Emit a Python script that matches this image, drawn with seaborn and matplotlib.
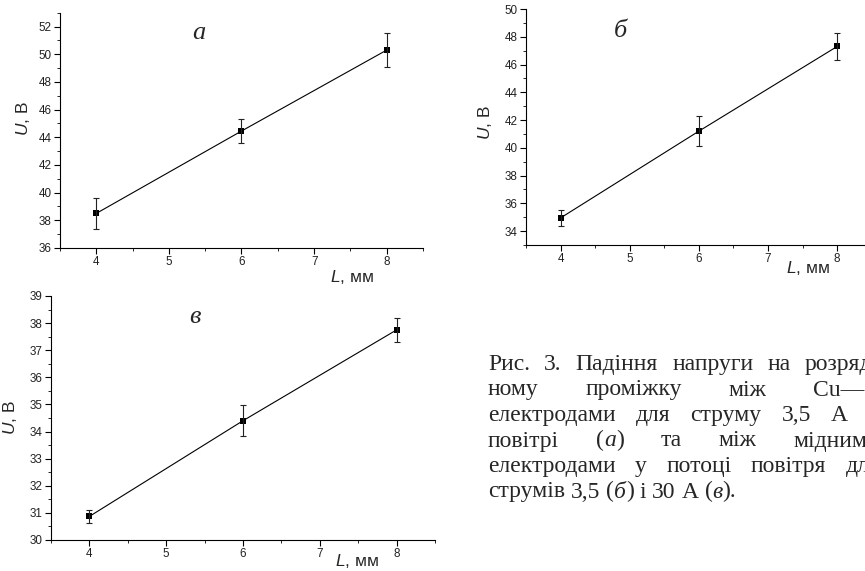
import matplotlib
matplotlib.use("Agg")
import matplotlib.pyplot as plt
from matplotlib.ticker import MultipleLocator
import seaborn as sns
import pandas as pd

# gap length L (mm) and measured voltage drop U (V) with error bars
L_mm = [4, 6, 8]
U_a = [38.5, 44.45, 50.3]
err_a = [1.1, 0.9, 1.2]
U_b = [34.95, 41.2, 47.3]
err_b = [0.6, 1.1, 1.0]
U_v = [30.87, 34.4, 37.75]
err_v = [0.23, 0.58, 0.45]

panel_letters = ["а", "б", "в"]
xlabel_text = "$L$, мм"
ylabel_text = "$U$, В"

# caption, *...* marks italic parts
caption_lines = [
    "Рис. 3. Падіння напруги на розряд-",
    "ному проміжку між Cu—C",
    "електродами для струму 3,5 А у",
    "повітрі (*а*) та між мідними",
    "електродами у потоці повітря для",
    "струмів 3,5 (*б*) і 30 А (*в*).",
]

W, H = 865, 571
sns.set_style("ticks")
plt.rcParams["font.family"] = ["Liberation Sans", "DejaVu Sans"]
plt.rcParams["mathtext.fontset"] = "custom"
plt.rcParams["mathtext.it"] = "Liberation Sans:italic"
plt.rcParams["mathtext.rm"] = "Liberation Sans"

fig = plt.figure(figsize=(W / 100, H / 100), dpi=100)


def px_axes(left, top, right, bottom):
    return fig.add_axes([left / W, 1 - bottom / H, (right - left) / W, (bottom - top) / H])


def draw_panel(ax, u, err, letter, ylim, ymajor, yminor, letter_pos, xlab_pos, ylab_pos):
    df = pd.DataFrame({"L": L_mm, "U": u})
    sns.lineplot(data=df, x="L", y="U", ax=ax, color="black", linewidth=0.8,
                 marker="s", markersize=3.8, markeredgewidth=0, markerfacecolor="black")
    ax.errorbar(L_mm, u, yerr=err, fmt="none", ecolor="#222222", elinewidth=0.8,
                capsize=2.2, capthick=0.8)
    ax.set_xlim(3.5, 8.5)
    ax.set_ylim(*ylim)
    ax.xaxis.set_major_locator(MultipleLocator(1))
    ax.xaxis.set_minor_locator(MultipleLocator(0.5))
    ax.yaxis.set_major_locator(MultipleLocator(ymajor))
    ax.yaxis.set_minor_locator(MultipleLocator(yminor))
    ax.tick_params(which="major", length=4, width=0.8, labelsize=8.4, pad=2, colors="black",
                   labelcolor="#222222")
    ax.tick_params(which="minor", length=2, width=0.7)
    sns.despine(ax=ax)
    for s in ["left", "bottom"]:
        ax.spines[s].set_linewidth(0.8)
        ax.spines[s].set_color("black")
    ax.set_xlabel(xlabel_text, fontsize=12.5, va="baseline")
    ax.set_ylabel(ylabel_text, fontsize=12.5)
    ax.xaxis.set_label_coords(*xlab_pos)
    ax.yaxis.set_label_coords(*ylab_pos)
    ax.text(letter_pos[0], letter_pos[1], letter, transform=ax.transAxes,
            family="Liberation Serif", style="italic", fontsize=19, ha="center", va="center")


ax_a = px_axes(60, 12.7, 423, 248)
draw_panel(ax_a, U_a, err_a, panel_letters[0], (36, 53), 2, 1,
           (0.383, 0.915), (0.804, -0.144), (-0.078, 0.55))

ax_b = px_axes(526, 9, 871.7, 245)
draw_panel(ax_b, U_b, err_b, panel_letters[1], (33, 50), 2, 1,
           (0.274, 0.908), (0.816, -0.119), (-0.093, 0.52))

ax_v = px_axes(51, 296, 435, 540)
draw_panel(ax_v, U_v, err_v, panel_letters[2], (30, 39), 1, 0.5,
           (0.375, 0.912), (0.796, -0.108), (-0.083, 0.5))

# caption block, justified lines cut by the right edge
renderer = fig.canvas.get_renderer()
cap_size = 17
x0, x1 = 488, 880
baselines = [370, 395.5, 421, 446.5, 472, 497.5]


def place_line(line, y_px, justify):
    pieces, widths = [], []
    for word in line.split(" "):
        segs, total, italic = [], 0, False
        for part in word.split("*"):
            if part:
                t = fig.text(0, 0, part, fontsize=cap_size, family="Liberation Serif",
                             style="italic" if italic else "normal", va="baseline")
                w = t.get_window_extent(renderer).width
                segs.append((t, w))
                total += w
            italic = not italic
        pieces.append(segs)
        widths.append(total)
    if justify:
        gap = (x1 - x0 - sum(widths)) / (len(pieces) - 1)
    else:
        gap = 0.25 * cap_size * 100 / 72
    x = x0
    for segs, wd in zip(pieces, widths):
        for t, w in segs:
            t.set_position((x / W, 1 - y_px / H))
            x += w
        x += gap


for i, line in enumerate(caption_lines):
    place_line(line, baselines[i], i < len(caption_lines) - 1)

fig.savefig("out.png", dpi=100)
